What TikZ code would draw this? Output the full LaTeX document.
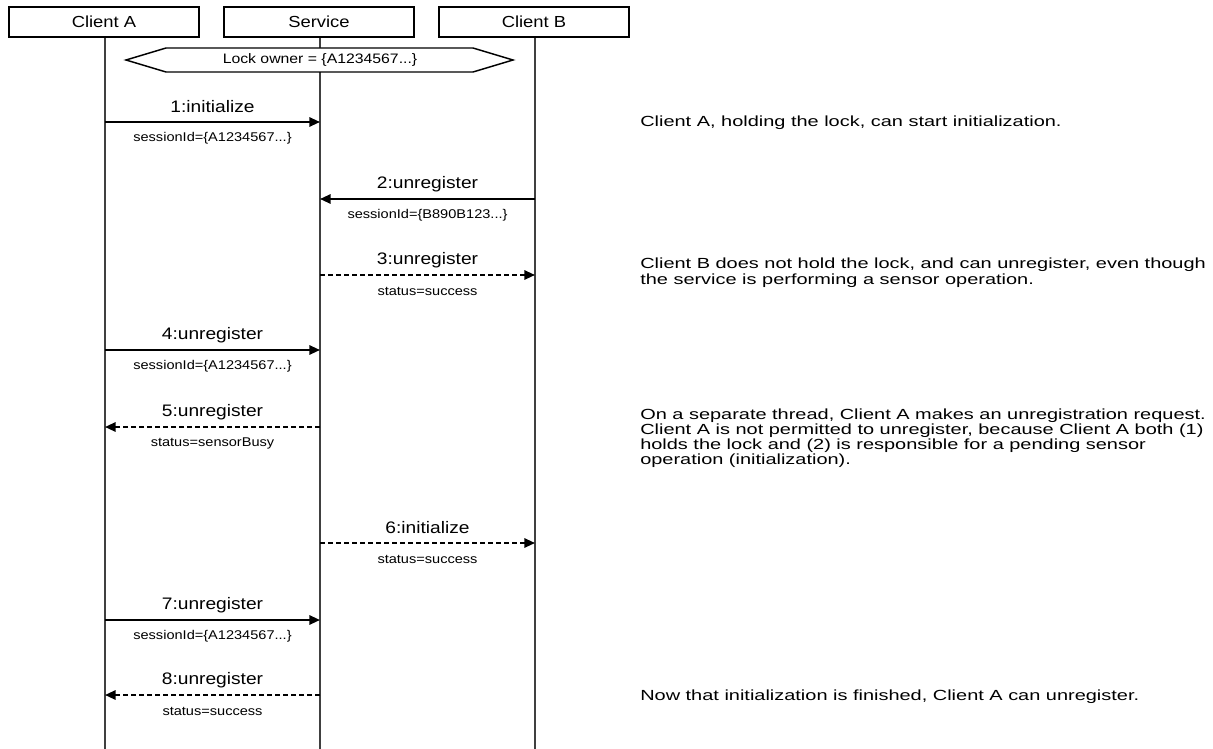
\documentclass[tikz,border=0pt]{standalone}
\usepackage{fontspec}
\setmainfont{Liberation Sans}[FakeStretch=1.15]
\newfontfamily\notefont{Liberation Sans}[FakeStretch=1.36]
\usetikzlibrary{arrows.meta}
\begin{document}
\begin{tikzpicture}[x=0.75pt,y=-0.75pt,
  actor/.style={draw,line width=1.4pt,minimum width=142.5pt,minimum height=22.5pt,inner sep=0pt,font=\fontsize{12}{14}\selectfont},
  life/.style={draw=black!75,line width=0.8pt},
  call/.style={line width=1.5pt,-{Triangle[length=8pt,width=7pt]}},
  reply/.style={call,dash pattern=on 3.75pt off 2.25pt},
  msg/.style={font=\fontsize{12.5}{14}\selectfont,inner sep=0pt,yshift=11.25pt},
  arg/.style={font=\fontsize{9.5}{11}\selectfont,inner sep=0pt,yshift=-12pt},
  note/.style={font=\notefont\fontsize{11}{12}\selectfont,inner sep=0pt,anchor=base west}]
\useasboundingbox (0,0) rectangle (1213,749);

% participants
\node[actor] (A) at (104,22) {Client A};
\node[actor] (S) at (319,22) {Service};
\node[actor] (B) at (534,22) {Client B};

% lifelines
\coordinate (Aend) at (105,749);
\coordinate (Send) at (320,749);
\coordinate (Bend) at (535,749);
\draw[life] (A.south -| Aend) -- (Aend);
\draw[life] (S.south -| Send) -- (Send);
\draw[life] (B.south -| Bend) -- (Bend);

% lock owner state
\draw[line width=1.1pt,fill=white] (126,60) -- (166,48) -- (473,48) -- (513,60) -- (473,72) -- (166,72) -- cycle;
\node[font=\fontsize{10.3}{12}\selectfont,inner sep=0pt] (lock) at (320,60) {Lock owner = \{A1234567...\}};

% message anchor points on the lifelines
\foreach \n/\y in {1/122,2/199,3/275,4/350,5/427,6/543,7/620,8/695}{
  \coordinate (a\n) at (105,\y);
  \coordinate (s\n) at (320,\y);
  \coordinate (b\n) at (535,\y);
}

\draw[call] (a1) -- (s1) node[msg,midway] {1:initialize} node[arg,midway] {sessionId=\{A1234567...\}};
\draw[call] (b2) -- (s2) node[msg,midway] {2:unregister} node[arg,midway] {sessionId=\{B890B123...\}};
\draw[reply] (s3) -- (b3) node[msg,midway] {3:unregister} node[arg,midway] {status=success};
\draw[call] (a4) -- (s4) node[msg,midway] {4:unregister} node[arg,midway] {sessionId=\{A1234567...\}};
\draw[reply] (s5) -- (a5) node[msg,midway] {5:unregister} node[arg,midway] {status=sensorBusy};
\draw[reply] (s6) -- (b6) node[msg,midway] {6:initialize} node[arg,midway] {status=success};
\draw[call] (a7) -- (s7) node[msg,midway] {7:unregister} node[arg,midway] {sessionId=\{A1234567...\}};
\draw[reply] (s8) -- (a8) node[msg,midway] {8:unregister} node[arg,midway] {status=success};

% commentary
\node[note] (n1) at (640,127) {Client A, holding the lock, can start initialization.};
\node[note] (n2a) at (640,268) {Client B does not hold the lock, and can unregister, even though};
\node[note] (n2b) at (640,284) {the service is performing a sensor operation.};
\node[note] (n3a) at (640,419) {On a separate thread, Client A makes an unregistration request.};
\node[note] (n3b) at (640,434) {Client A is not permitted to unregister, because Client A both (1)};
\node[note] (n3c) at (640,449) {holds the lock and (2) is responsible for a pending sensor};
\node[note] (n3d) at (640,464) {operation (initialization).};
\node[note] (n4) at (640,700) {Now that initialization is finished, Client A can unregister.};
\end{tikzpicture}
\end{document}
